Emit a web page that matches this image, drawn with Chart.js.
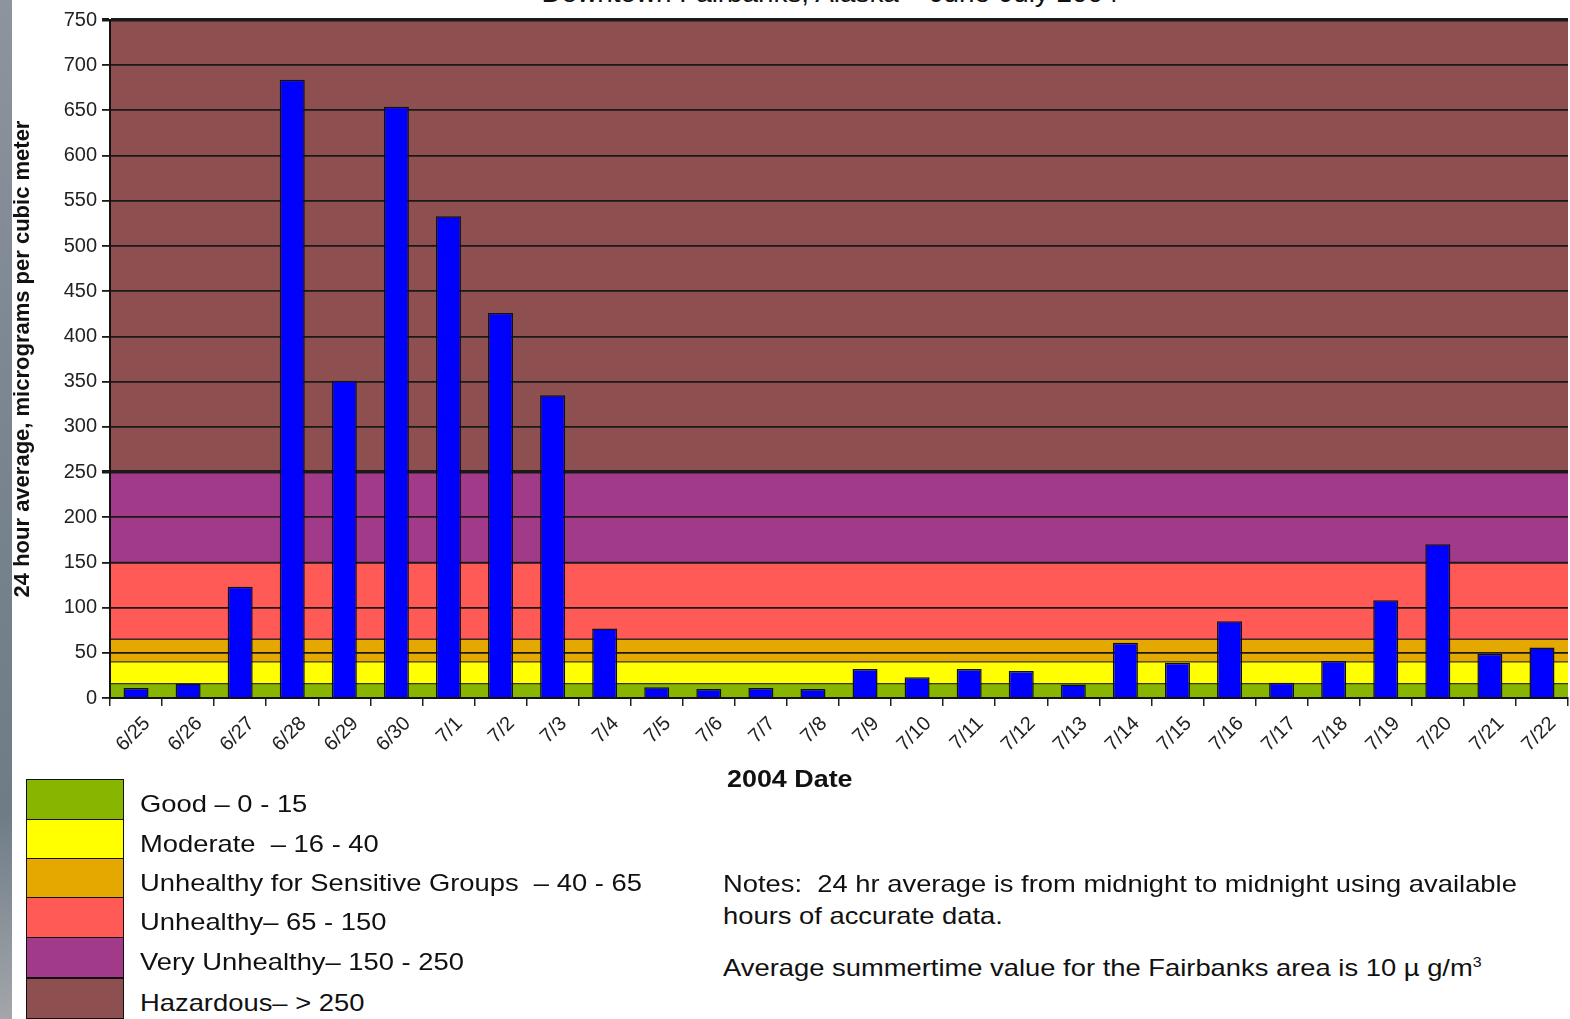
<!DOCTYPE html>
<html>
<head>
<meta charset="utf-8">
<script src="https://cdn.jsdelivr.net/npm/chart.js@4.4.1/dist/chart.umd.min.js"></script>
<style>
  html, body { margin: 0; padding: 0; background: #fff; }
  body { width: 1570px; height: 1019px; position: relative; overflow: hidden;
         font-family: "Liberation Sans", Arial, sans-serif; color: #111; }
  #strip { position: absolute; left: 0; top: 0; width: 12px; height: 1019px;
           background: linear-gradient(#8d949d, #75818d 55%, #6f7c88 80%, #a3a6aa); }
  #title { position: absolute; left: 0; top: -20px; width: 1660px; text-align: center;
           font-size: 26px; line-height: 26px; color: #111; transform: scaleX(1.07); transform-origin: 830px 0; }
  #chart { position: absolute; left: 0; top: 0; }
  #xtitle { position: absolute; left: 727px; top: 765px; font-size: 24px; font-weight: bold;
            transform: scaleX(1.12); transform-origin: 0 0; }
  .sw { position: absolute; left: 26px; width: 98px; height: 41px; box-sizing: border-box;
        border: 1.5px solid #111; }
  .lab { position: absolute; left: 140px; font-size: 24px; white-space: pre; line-height: 28px;
         transform: scaleX(1.14); transform-origin: 0 0; }
  .note { position: absolute; left: 723px; font-size: 24px; white-space: pre; line-height: 28px;
          transform: scaleX(1.14); transform-origin: 0 0; }
</style>
</head>
<body>
<div id="strip"></div>
<div id="title">Downtown Fairbanks, Alaska – June-July 2004</div>
<canvas id="chart" width="1570" height="800"></canvas>
<div id="xtitle">2004 Date</div>
<div id="legend"></div>
<div class="note" style="top:870px">Notes:  24 hr average is from midnight to midnight using available</div>
<div class="note" style="top:902px">hours of accurate data.</div>
<div class="note" style="top:948px">Average summertime value for the Fairbanks area is 10 µ g/m<sup style="font-size:14px">3</sup></div>
<script>
// dates on the x axis
var dates = ['6/25', '6/26', '6/27', '6/28', '6/29', '6/30', '7/1', '7/2', '7/3', '7/4',
             '7/5', '7/6', '7/7', '7/8', '7/9', '7/10', '7/11', '7/12', '7/13', '7/14',
             '7/15', '7/16', '7/17', '7/18', '7/19', '7/20', '7/21', '7/22'];
// 24 hour average, micrograms per cubic meter
var pm25 = [11, 16, 123, 684, 351, 654, 533, 426, 335, 77,
            12, 10, 11, 10, 32, 23, 32, 30, 15, 61,
            39, 85, 17, 41, 108, 170, 49, 56];
// air quality bands
var bandNames = ['Good – 0 - 15', 'Moderate  – 16 - 40', 'Unhealthy for Sensitive Groups  – 40 - 65',
                 'Unhealthy– 65 - 150', 'Very Unhealthy– 150 - 250', 'Hazardous– > 250'];
var bandLimits = [0, 16, 40, 65, 150, 250, 750];
var bandColors = ['#88B600', '#FFFF00', '#E5A800', '#FF5A55', '#A23A8A', '#8D4F4F'];
var yMin = 0, yMax = 750, yStep = 50;

// legend boxes
var legend = document.getElementById('legend');
var rowTops = [779, 819, 858, 897, 937, 978];
bandNames.forEach(function (name, i) {
    var top = rowTops[i];
    var sw = document.createElement('div');
    sw.className = 'sw';
    sw.style.top = top + 'px';
    sw.style.background = bandColors[i];
    legend.appendChild(sw);
    var lab = document.createElement('div');
    lab.className = 'lab';
    lab.style.top = (top + 11) + 'px';
    lab.textContent = name;
    legend.appendChild(lab);
});

var bands = {
    id: 'bands',
    beforeDraw: function (chart) {
        var ctx = chart.ctx, a = chart.chartArea, y = chart.scales.y;
        ctx.save();
        for (var i = 0; i < bandColors.length; i++) {
            var top = y.getPixelForValue(bandLimits[i + 1]);
            var bot = y.getPixelForValue(bandLimits[i]);
            ctx.fillStyle = bandColors[i];
            ctx.fillRect(a.left, top, a.right - a.left, bot - top);
        }
        ctx.strokeStyle = 'rgba(25,25,25,0.85)';
        ctx.lineWidth = 1.3;
        bandLimits.slice(1, -1).forEach(function (v) {
            var p = y.getPixelForValue(v);
            ctx.beginPath();
            ctx.moveTo(a.left, p);
            ctx.lineTo(a.right, p);
            ctx.stroke();
        });
        ctx.restore();
    }
};

var ctx = document.getElementById('chart').getContext('2d');
var chart = new Chart(ctx, {
    type: 'bar',
    data: {
        labels: dates,
        datasets: [{
            data: pm25,
            backgroundColor: '#0000FF',
            borderColor: '#111',
            borderWidth: 1.5,
            barPercentage: 0.48,
            categoryPercentage: 1
        }]
    },
    plugins: [bands],
    options: {
        responsive: false,
        animation: false,
        layout: { padding: { top: 20, right: 2, left: 0, bottom: 0 } },
        plugins: { legend: { display: false }, tooltip: { enabled: false } },
        scales: {
            x: {
                afterFit: function (s) { s.height = 102; },
                grid: { offset: true, drawOnChartArea: false, tickLength: 8, color: '#222', lineWidth: 1.5 },
                border: { color: '#111', width: 2 },
                ticks: {
                    autoSkip: false, minRotation: 45, maxRotation: 45, padding: 6, labelOffset: 11,
                    color: '#222', font: { family: 'Liberation Sans', size: 20 }
                }
            },
            y: {
                min: yMin, max: yMax,
                afterFit: function (s) { s.width = 110; },
                grid: {
                    color: '#1a1a1a', tickLength: 8,
                    lineWidth: function (c) { return c.tick && (c.tick.value === 250 || c.tick.value === 750) ? 3.5 : 1.8; }
                },
                border: { color: '#111', width: 2 },
                ticks: {
                    stepSize: yStep, padding: 5, color: '#222',
                    font: { family: 'Liberation Sans', size: 20 }
                },
                title: {
                    display: true, text: '24 hour average, micrograms per cubic meter',
                    color: '#111', padding: { top: 10 },
                    font: { family: 'Liberation Sans', size: 22, weight: 'bold' }
                }
            }
        }
    }
});
</script>
</body>
</html>
